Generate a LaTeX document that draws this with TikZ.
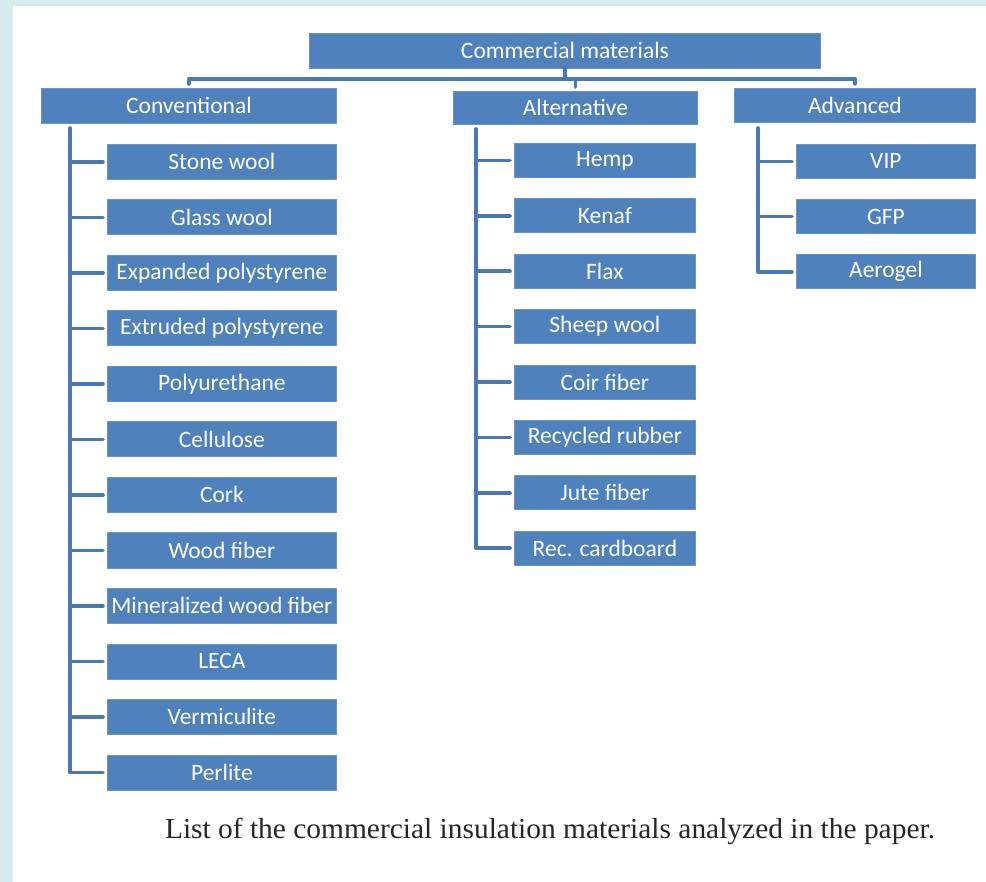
\documentclass[tikz,border=0pt]{standalone}
\usepackage{fontspec}
\setmainfont{Carlito}
\newfontfamily\capfont{Liberation Serif}
\definecolor{boxblue}{HTML}{4F81BD}
\definecolor{lineblue}{HTML}{4A78B0}
\definecolor{pagecyan}{HTML}{D6ECEF}
\begin{document}
\begin{tikzpicture}[x=1pt,y=-1pt,
  box/.style={draw=boxblue!85!white, line width=0.8pt, fill=boxblue, text=white,
    font=\fontsize{23.5}{23.5}\selectfont, inner sep=0pt, anchor=north west},
  conn/.style={draw=lineblue, line width=3.6pt, line cap=round, line join=round}]
% page backdrop
\fill[pagecyan] (0,0) rectangle (986,882);
\fill[white] (13,6) rectangle (986,882);
\useasboundingbox (0,0) rectangle (986,882);

% root and the three groups
\node[box, minimum width=511pt, minimum height=35pt] (root) at (309,33) {Commercial materials};
\node[box, minimum width=295pt, minimum height=35pt] (conv) at (41,88) {Conventional};
\node[box, minimum width=244pt, minimum height=33pt] (alt) at (453,91) {Alternative};
\node[box, minimum width=241pt, minimum height=34pt] (adv) at (734,88) {Advanced};

% conventional materials
\foreach \n/\t [count=\i from 0] in {c1/Stone wool, c2/Glass wool, c3/Expanded polystyrene,
    c4/Extruded polystyrene, c5/Polyurethane, c6/Cellulose, c7/Cork, c8/Wood fiber,
    c9/Mineralized wood fiber, c10/LECA, c11/Vermiculite, c12/Perlite}
  \node[box, minimum width=229pt, minimum height=35pt] (\n) at (107,144+55.5*\i) {\t};

% alternative materials
\foreach \n/\t [count=\i from 0] in {a1/Hemp, a2/Kenaf, a3/Flax, a4/Sheep wool, a5/Coir fiber,
    a6/Recycled rubber, a7/Jute fiber, a8/Rec. cardboard}
  \node[box, minimum width=181pt, minimum height=34pt] (\n) at (514,143+55.4*\i) {\t};

% advanced materials
\foreach \n/\t [count=\i from 0] in {v1/VIP, v2/GFP, v3/Aerogel}
  \node[box, minimum width=179pt, minimum height=34pt] (\n) at (796,144+55.2*\i) {\t};

% bus from the root to the groups
\coordinate (bus) at (0,79);
\draw[conn] (root.south) -- (root.south |- bus);
\draw[conn, shorten <=4pt, shorten >=4pt] (conv.north) -- (conv.north |- bus) -- (adv.north |- bus) -- (adv.north);
\draw[conn, shorten <=4pt] (alt.north) -- (alt.north |- bus);

% spines
\coordinate (cs) at (70,128);
\coordinate (as) at (476,129);
\coordinate (vs) at (758,128);
\draw[conn, shorten >=4pt] (cs) |- (c12.west);
\foreach \n in {c1,c2,c3,c4,c5,c6,c7,c8,c9,c10,c11}
  \draw[conn, shorten >=4pt] (cs |- \n.west) -- (\n.west);
\draw[conn, shorten >=4pt] (as) |- (a8.west);
\foreach \n in {a1,a2,a3,a4,a5,a6,a7}
  \draw[conn, shorten >=4pt] (as |- \n.west) -- (\n.west);
\draw[conn, shorten >=4pt] (vs) |- (v3.west);
\foreach \n in {v1,v2}
  \draw[conn, shorten >=4pt] (vs |- \n.west) -- (\n.west);

% caption
\node[text=black!85, anchor=base, inner sep=0pt] (cap) at (550,838)
  {\scalebox{1.015}[1]{\capfont\fontsize{29}{29}\selectfont List of the commercial insulation materials analyzed in the paper.}};
\end{tikzpicture}
\end{document}
